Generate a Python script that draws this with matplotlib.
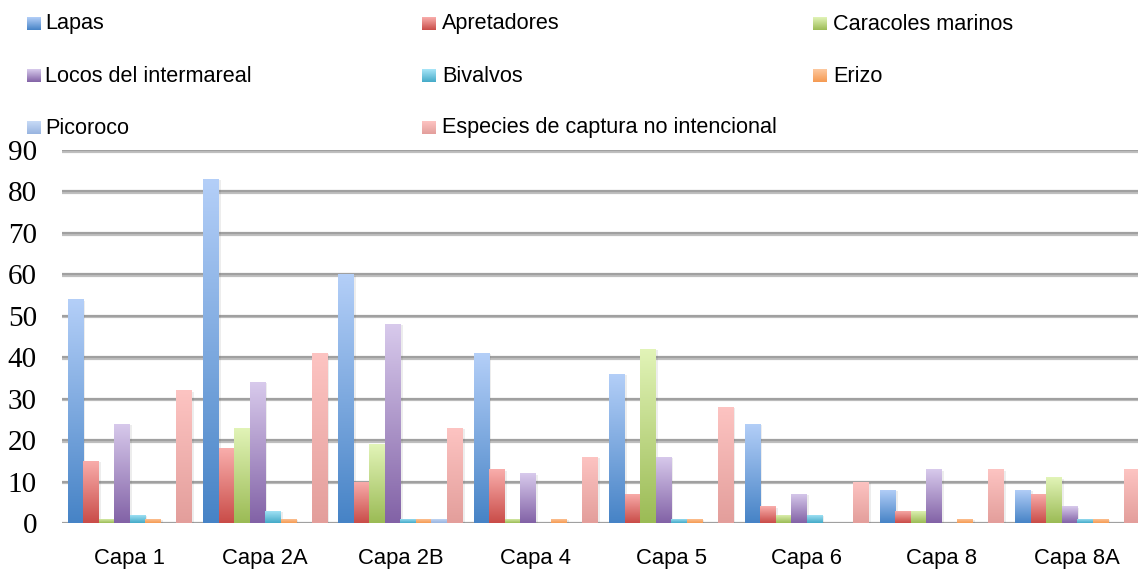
import numpy as np
import matplotlib.pyplot as plt
from matplotlib.colors import LinearSegmentedColormap
from matplotlib import patheffects as pe

# data
categories = ['Capa 1', 'Capa 2A', 'Capa 2B', 'Capa 4', 'Capa 5', 'Capa 6', 'Capa 8', 'Capa 8A']
series_names = ['Lapas', 'Apretadores', 'Caracoles marinos', 'Locos del intermareal',
                'Bivalvos', 'Erizo', 'Picoroco', 'Especies de captura no intencional']
lapas = [54, 83, 60, 41, 36, 24, 8, 8]
apretadores = [15, 18, 10, 13, 7, 4, 3, 7]
caracoles = [1, 23, 19, 1, 42, 2, 3, 11]
locos = [24, 34, 48, 12, 16, 7, 13, 4]
bivalvos = [2, 3, 1, 0, 1, 2, 0, 1]
erizo = [1, 1, 1, 1, 1, 0, 1, 1]
picoroco = [0, 0, 1, 0, 0, 0, 0, 0]
especies = [32, 41, 23, 16, 28, 10, 13, 13]
y_ticks = [0, 10, 20, 30, 40, 50, 60, 70, 80, 90]

series = [lapas, apretadores, caracoles, locos, bivalvos, erizo, picoroco, especies]

# (bottom colour, top colour) for the gradient fill of each series
colors = [('#4683c6', '#b4cff8'),
          ('#c94c48', '#f9aeac'),
          ('#9bbb55', '#e2f4b8'),
          ('#8262a6', '#d8caec'),
          ('#44aac8', '#a8e6f8'),
          ('#f59a52', '#fdc9a0'),
          ('#98b4e0', '#c8dbf6'),
          ('#e39e9b', '#fdc4c2')]

fig = plt.figure(figsize=(11.38, 5.71), dpi=100)
ax = fig.add_axes([62 / 1138, 48 / 571, 1083 / 1138, 373 / 571])

n = len(series)
bar_w = 0.1145
x = np.arange(len(categories))
grad = np.linspace(0, 1, 256).reshape(-1, 1)

for i, vals in enumerate(series):
    cmap = LinearSegmentedColormap.from_list('c%d' % i, colors[i])
    pos = x + (i - (n - 1) / 2) * bar_w
    bars = ax.bar(pos, vals, width=bar_w, color=colors[i][0], linewidth=0, zorder=3)
    for b in bars:
        h = b.get_height()
        if h <= 0:
            continue
        b.set_path_effects([pe.SimplePatchShadow(offset=(1.5, -1), alpha=0.1, shadow_rgbFace='#555555'),
                            pe.Normal()])
        x0 = b.get_x()
        im = ax.imshow(grad, extent=[x0, x0 + bar_w, 0, h], origin='lower', cmap=cmap,
                       aspect='auto', zorder=4, interpolation='bilinear')
        im.set_clip_path(b)

ax.set_xlim(-0.5, len(categories) - 0.5)
ax.set_ylim(0, 90)
ax.set_yticks(y_ticks)
ax.set_yticklabels([str(t) for t in y_ticks], family='Liberation Serif', fontsize=21)
ax.set_xticks(x)
ax.set_xticklabels(categories, family='Liberation Sans', fontsize=15.8)
ax.tick_params(axis='y', length=0, pad=18)
ax.tick_params(axis='x', length=0, pad=18)
ax.yaxis.grid(True, color='#a0a0a0', linewidth=1.6, zorder=1,
              path_effects=[pe.SimpleLineShadow(offset=(0, -1.2), alpha=0.25), pe.Normal()])
for s in ax.spines.values():
    s.set_visible(False)
ax.set_axisbelow(True)

# legend drawn row by row, three columns
marker_x = [27, 422, 813]
text_x = [45, 442, 833]
row_y = [24, 76, 128]
for i, name in enumerate(series_names):
    r, c = divmod(i, 3)
    ly = row_y[r]
    cmap = LinearSegmentedColormap.from_list('l%d' % i, colors[i])
    lax = fig.add_axes([marker_x[c] / 1138, (571 - ly - 6) / 571, 14 / 1138, 13 / 571])
    lax.imshow(grad, origin='lower', cmap=cmap, aspect='auto', extent=[0, 1, 0, 1])
    lax.axis('off')
    fig.text(text_x[c] / 1138, (571 - ly) / 571, name, family='Liberation Sans',
             fontsize=15.6, va='center', ha='left')

fig.savefig('out.png', dpi=100)
